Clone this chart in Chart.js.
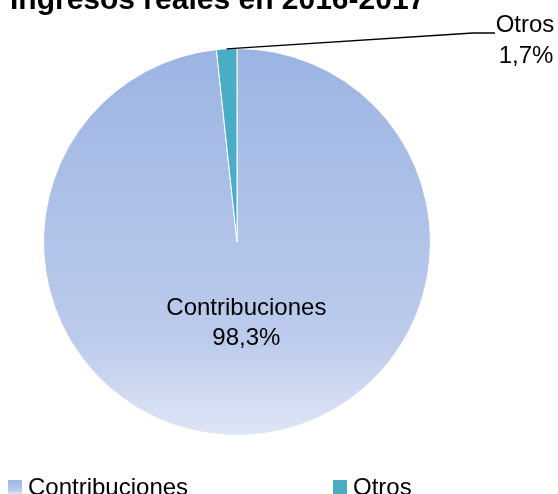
<!DOCTYPE html>
<html>
<head>
<meta charset="utf-8">
<script src="https://cdn.jsdelivr.net/npm/chart.js@4/dist/chart.umd.min.js"></script>
<style>
  html, body { margin: 0; padding: 0; background: #fff; }
  #wrap { width: 558px; height: 494px; position: relative; }
</style>
</head>
<body>
<div id="wrap"><canvas id="pieChart"></canvas></div>
<script>
// Datos del gráfico
const titulo = "Ingresos reales en 2016-2017";
const categorias = ["Contribuciones", "Otros"];
const valores = [98.3, 1.7];
const etiquetas = ["98,3%", "1,7%"];
const colorOtros = "#4BACC6";

const fuente = "'Liberation Sans', Arial, sans-serif";

// Degradado vertical para "Contribuciones"
const degradado = (ctx, top, bottom) => {
  const g = ctx.createLinearGradient(0, top, 0, bottom);
  g.addColorStop(0, "#9CB4E3");
  g.addColorStop(0.75, "#BCCBEC");
  g.addColorStop(1, "#DFE6F6");
  return g;
};

const etiquetasPlugin = {
  id: "etiquetas",
  afterDraw(chart) {
    const ctx = chart.ctx;
    const arcs = chart.getDatasetMeta(0).data;
    ctx.save();
    ctx.fillStyle = "#000";
    ctx.textAlign = "center";
    ctx.textBaseline = "middle";
    ctx.font = "24px " + fuente;

    // Contribuciones, dentro de la porción
    const a0 = arcs[0];
    const mid0 = (a0.startAngle + a0.endAngle) / 2;
    const r0 = a0.outerRadius * 0.42;
    const x0 = a0.x + Math.cos(mid0) * r0 + 5;
    const y0 = a0.y + Math.sin(mid0) * r0;
    ctx.fillText(categorias[0], x0, y0 - 15);
    ctx.fillText(etiquetas[0], x0, y0 + 15);

    // Otros, fuera con línea guía
    const a1 = arcs[1];
    const mid1 = (a1.startAngle + a1.endAngle) / 2;
    const sx = a1.x + Math.cos(mid1) * a1.outerRadius;
    const sy = a1.y + Math.sin(mid1) * a1.outerRadius;
    ctx.strokeStyle = "#000";
    ctx.lineWidth = 1.3;
    ctx.beginPath();
    ctx.moveTo(sx, sy);
    ctx.lineTo(473, 33);
    ctx.lineTo(495, 33);
    ctx.stroke();
    ctx.fillText(categorias[1], 525, 25);
    ctx.fillText(etiquetas[1], 526, 56);

    // Título (cortado arriba)
    ctx.font = "bold 30px " + fuente;
    ctx.textAlign = "left";
    ctx.textBaseline = "alphabetic";
    ctx.fillText(titulo, 10, 9);

    // Leyenda
    const leyX = [8, 333];
    ctx.font = "24px " + fuente;
    categorias.forEach((c, i) => {
      ctx.fillStyle = i === 0 ? degradado(ctx, 480, 494) : colorOtros;
      ctx.fillRect(leyX[i], 480, 14, 14);
      ctx.fillStyle = "#000";
      ctx.fillText(c, leyX[i] + 20, 495);
    });
    ctx.restore();
  },
};

const ctx = document.getElementById("pieChart").getContext("2d");
new Chart(ctx, {
  type: "pie",
  data: {
    labels: categorias,
    datasets: [
      {
        data: valores,
        backgroundColor: (c) => {
          if (c.dataIndex === 1) return colorOtros;
          const area = c.chart.chartArea;
          if (!area) return "#A9BEE7";
          return degradado(c.chart.ctx, area.top, area.bottom);
        },
        borderColor: "#ffffff",
        borderWidth: 1,
      },
    ],
  },
  options: {
    responsive: true,
    maintainAspectRatio: false,
    animation: false,
    layout: { padding: { left: 43, right: 127, top: 48, bottom: 58 } },
    plugins: { legend: { display: false }, tooltip: { enabled: false } },
  },
  plugins: [etiquetasPlugin],
});
</script>
</body>
</html>
